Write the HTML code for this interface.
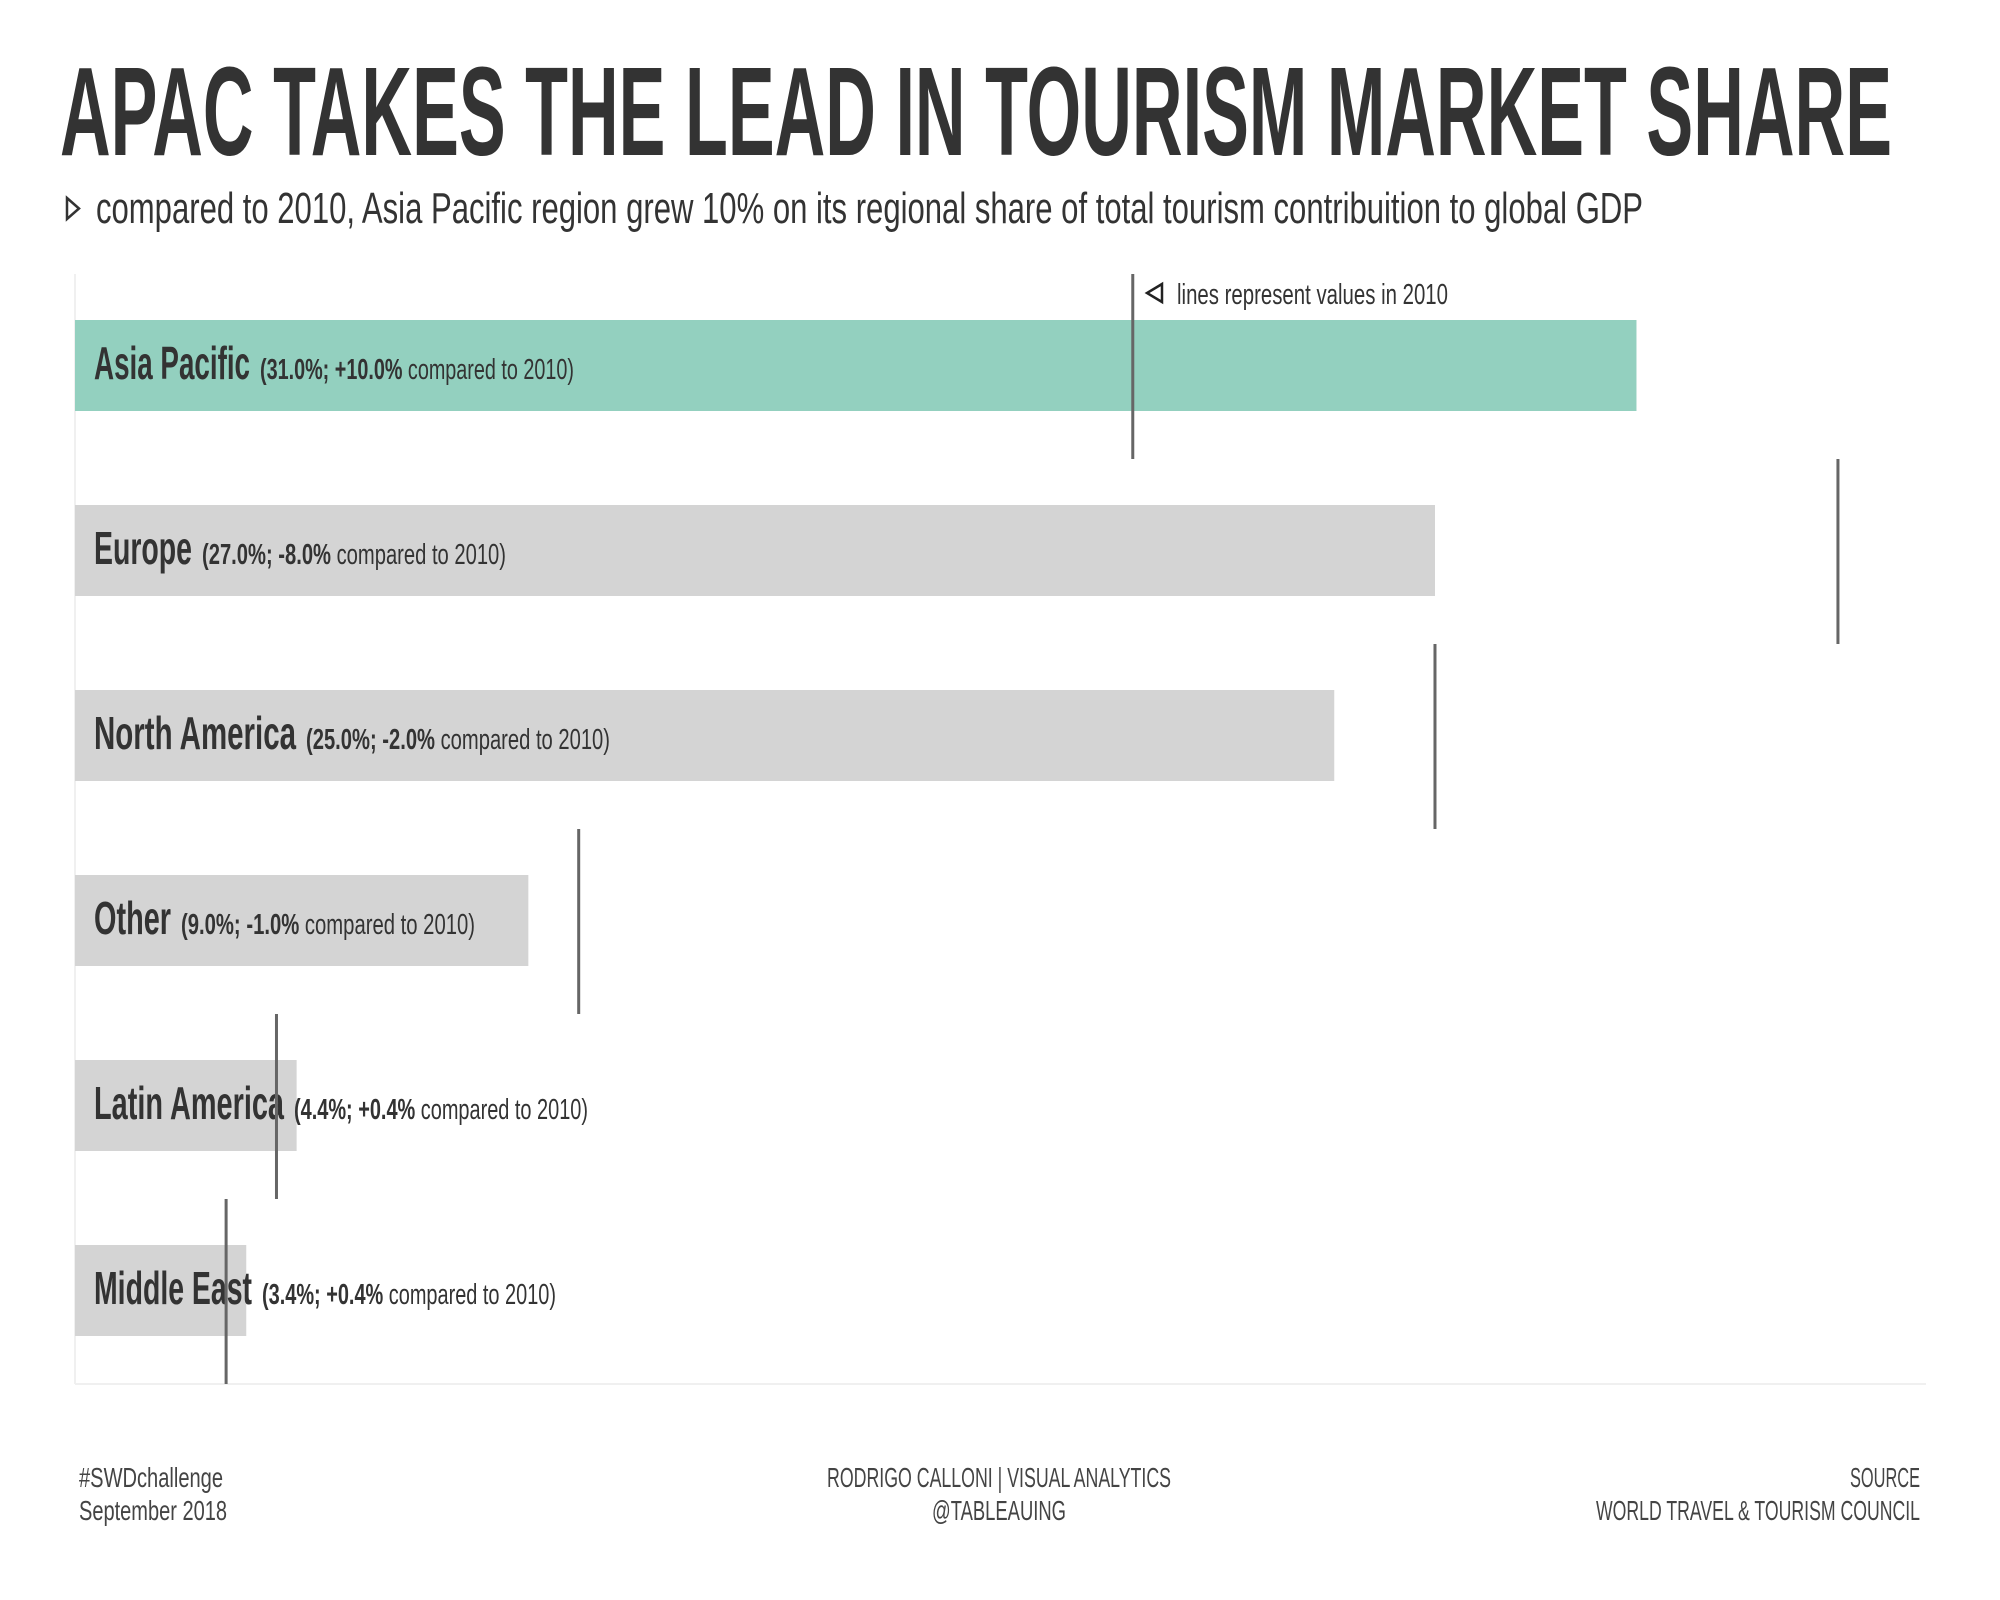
<!DOCTYPE html>
<html><head><meta charset="utf-8"><title>APAC tourism share</title>
<style>
html,body{margin:0;padding:0;background:#fff;}
svg{display:block;font-family:"Liberation Sans",sans-serif;}
</style></head>
<body>
<svg id="chart" width="2000" height="1600" viewBox="0 0 2000 1600" xmlns="http://www.w3.org/2000/svg">
  <text x="60" y="155" font-size="126" font-weight="bold" fill="#333" textLength="1832" lengthAdjust="spacingAndGlyphs">APAC TAKES THE LEAD IN TOURISM MARKET SHARE</text>
  <path d="M67,198 L79,208.5 L67,219 Z" fill="none" stroke="#333" stroke-width="2.5"/>
  <text x="96" y="223" font-size="44" fill="#333" textLength="1547" lengthAdjust="spacingAndGlyphs">compared to 2010, Asia Pacific region grew 10% on its regional share of total tourism contribuition to global GDP</text>
  <line x1="75" y1="274" x2="75" y2="1384" stroke="#f0f0f0" stroke-width="2"/>
  <line x1="75" y1="1384" x2="1926" y2="1384" stroke="#f0f0f0" stroke-width="2"/>
  <g id="bars"></g>
  <path d="M1162,284 L1147,293 L1162,302 Z" fill="none" stroke="#222" stroke-width="2.5"/>
  <text x="1177" y="304" font-size="29" fill="#333" textLength="271" lengthAdjust="spacingAndGlyphs">lines represent values in 2010</text>
  <text x="79" y="1487" font-size="28" fill="#444" textLength="144" lengthAdjust="spacingAndGlyphs">#SWDchallenge</text>
  <text x="79" y="1520" font-size="28" fill="#444" textLength="148" lengthAdjust="spacingAndGlyphs">September 2018</text>
  <text x="999" y="1487" font-size="28" fill="#444" text-anchor="middle" textLength="344" lengthAdjust="spacingAndGlyphs">RODRIGO CALLONI | VISUAL ANALYTICS</text>
  <text x="999" y="1520" font-size="28" fill="#444" text-anchor="middle" textLength="134" lengthAdjust="spacingAndGlyphs">@TABLEAUING</text>
  <text x="1920" y="1487" font-size="28" fill="#444" text-anchor="end" textLength="70" lengthAdjust="spacingAndGlyphs">SOURCE</text>
  <text x="1920" y="1520" font-size="28" fill="#444" text-anchor="end" textLength="324" lengthAdjust="spacingAndGlyphs">WORLD TRAVEL &amp; TOURISM COUNCIL</text>
</svg>
<script>
const categories = ["Asia Pacific","Europe","North America","Other","Latin America","Middle East"];
const values2018 = [31.0,27.0,25.0,9.0,4.4,3.4];
const values2010 = [21.0,35.0,27.0,10.0,4.0,3.0];
const changeLabels = ["+10.0%","-8.0%","-2.0%","-1.0%","+0.4%","+0.4%"];
const valueLabels = ["31.0%","27.0%","25.0%","9.0%","4.4%","3.4%"];

const NS = "http://www.w3.org/2000/svg";
const x0 = 75, pxPerUnit = 50.37;
const top0 = 274, rowH = 185;
function xScale(v){ return x0 + v * pxPerUnit; }
function rowTop(i){ return top0 + i * rowH; }
const nameWidths = {"Asia Pacific":156,"Europe":98,"North America":202,"Other":77,"Latin America":190,"Middle East":158};
const g = document.getElementById('bars');

function mk(tag, attrs){ const e = document.createElementNS(NS, tag); for (const k in attrs) e.setAttribute(k, attrs[k]); return e; }

categories.forEach((c, i) => {
  const t = rowTop(i);
  const bar = mk('rect', {x: x0, y: t + 46, width: xScale(values2018[i]) - x0, height: 91, fill: i === 0 ? '#93d0bf' : '#d4d4d4'});
  
  
  g.appendChild(bar);

  const nw = nameWidths[c] || c.length * 13;
  const name = mk('text', {x: 94, y: t + 105, 'font-size': 46, 'font-weight': 'bold', fill: '#333', textLength: nw, lengthAdjust: 'spacingAndGlyphs'});
  name.textContent = c;
  
  
  g.appendChild(name);

  const det = mk('text', {x: 94 + nw + 10, y: t + 105, 'font-size': 29, fill: '#333', lengthAdjust: 'spacingAndGlyphs'});
  const s1 = mk('tspan', {'font-weight': 'bold'}); s1.textContent = '(' + valueLabels[i] + '; ';
  const s2 = mk('tspan', {'font-weight': 'bold'}); s2.textContent = changeLabels[i];
  const s3 = mk('tspan', {}); s3.textContent = ' compared to 2010)';
  det.appendChild(s1); det.appendChild(s2); det.appendChild(s3);
  const detText = s1.textContent + s2.textContent + s3.textContent;
  det.setAttribute('textLength', (detText.length * 9.8).toFixed(0));
  
  
  g.appendChild(det);

  const ln = mk('line', {x1: xScale(values2010[i]), x2: xScale(values2010[i]), y1: t, y2: t + rowH, stroke: '#666', 'stroke-width': 3});
  
  
  g.appendChild(ln);
});
</script>
</body></html>
